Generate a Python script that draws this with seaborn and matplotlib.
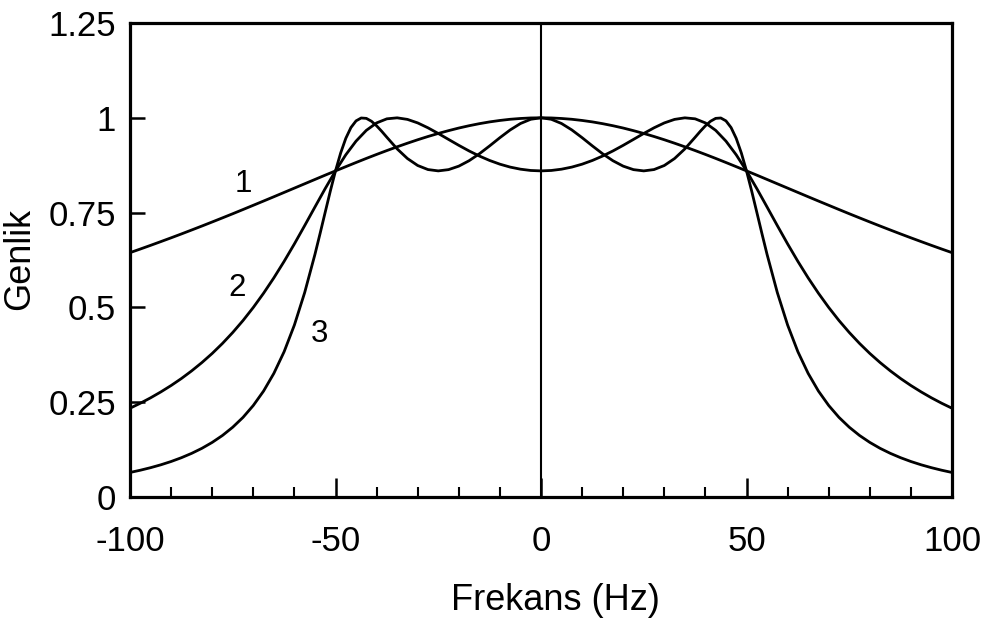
import numpy as np
import pandas as pd
import matplotlib
matplotlib.use("Agg")
import matplotlib.pyplot as plt
from matplotlib.ticker import MultipleLocator
import seaborn as sns

# frequency grid (Hz), -100 .. 100 in 2.5 Hz steps (curves 1 and 2)
freq = [-100, -97.5, -95, -92.5, -90, -87.5, -85, -82.5, -80, -77.5,
        -75, -72.5, -70, -67.5, -65, -62.5, -60, -57.5, -55, -52.5,
        -50, -47.5, -45, -42.5, -40, -37.5, -35, -32.5, -30, -27.5,
        -25, -22.5, -20, -17.5, -15, -12.5, -10, -7.5, -5, -2.5,
        0,
        2.5, 5, 7.5, 10, 12.5, 15, 17.5, 20, 22.5, 25,
        27.5, 30, 32.5, 35, 37.5, 40, 42.5, 45, 47.5, 50,
        52.5, 55, 57.5, 60, 62.5, 65, 67.5, 70, 72.5, 75,
        77.5, 80, 82.5, 85, 87.5, 90, 92.5, 95, 97.5, 100]

# curve 1
genlik_1 = [0.6444, 0.6539, 0.6636, 0.6735, 0.6835, 0.6937, 0.7041, 0.7146, 0.7253, 0.7361,
            0.7470, 0.7581, 0.7693, 0.7805, 0.7918, 0.8032, 0.8146, 0.8260, 0.8374, 0.8488,
            0.8600, 0.8711, 0.8821, 0.8929, 0.9034, 0.9136, 0.9235, 0.9330, 0.9421, 0.9507,
            0.9587, 0.9661, 0.9730, 0.9791, 0.9845, 0.9892, 0.9930, 0.9961, 0.9982, 0.9996,
            1.0000,
            0.9996, 0.9982, 0.9961, 0.9930, 0.9892, 0.9845, 0.9791, 0.9730, 0.9661, 0.9587,
            0.9507, 0.9421, 0.9330, 0.9235, 0.9136, 0.9034, 0.8929, 0.8821, 0.8711, 0.8600,
            0.8488, 0.8374, 0.8260, 0.8146, 0.8032, 0.7918, 0.7805, 0.7693, 0.7581, 0.7470,
            0.7361, 0.7253, 0.7146, 0.7041, 0.6937, 0.6835, 0.6735, 0.6636, 0.6539, 0.6444]

# curve 2
genlik_2 = [0.2341, 0.2472, 0.2615, 0.2771, 0.2940, 0.3124, 0.3326, 0.3546, 0.3786, 0.4050,
            0.4339, 0.4654, 0.4999, 0.5374, 0.5779, 0.6214, 0.6675, 0.7157, 0.7648, 0.8135,
            0.8600, 0.9024, 0.9385, 0.9669, 0.9865, 0.9973, 0.9999, 0.9958, 0.9865, 0.9736,
            0.9587, 0.9430, 0.9274, 0.9126, 0.8992, 0.8875, 0.8777, 0.8700, 0.8645, 0.8611,
            0.8600,
            0.8611, 0.8645, 0.8700, 0.8777, 0.8875, 0.8992, 0.9126, 0.9274, 0.9430, 0.9587,
            0.9736, 0.9865, 0.9958, 0.9999, 0.9973, 0.9865, 0.9669, 0.9385, 0.9024, 0.8600,
            0.8135, 0.7648, 0.7157, 0.6675, 0.6214, 0.5779, 0.5374, 0.4999, 0.4654, 0.4339,
            0.4050, 0.3786, 0.3546, 0.3326, 0.3124, 0.2940, 0.2771, 0.2615, 0.2472, 0.2341]

# curve 3 is read more densely around the steep edges
freq_3 = [-100, -97.5, -95, -92.5, -90, -87.5, -85, -82.5, -80, -77.5,
          -75, -72.5, -70, -67.5, -65, -62.5, -60, -57.5, -55, -53.75, -52.5, -51.25,
          -50, -48.75, -47.5, -46.25, -45, -43.75, -42.5, -41.25, -40, -38.75, -37.5,
          -35, -32.5, -30, -27.5,
          -25, -22.5, -20, -17.5, -15, -12.5, -10, -7.5, -5, -2.5,
          0,
          2.5, 5, 7.5, 10, 12.5, 15, 17.5, 20, 22.5, 25,
          27.5, 30, 32.5, 35, 37.5, 38.75, 40, 41.25, 42.5, 43.75, 45, 46.25, 47.5, 48.75,
          50, 51.25, 52.5, 53.75, 55, 57.5, 60, 62.5, 65, 67.5, 70, 72.5, 75,
          77.5, 80, 82.5, 85, 87.5, 90, 92.5, 95, 97.5, 100]

genlik_3 = [0.0647, 0.0706, 0.0773, 0.0849, 0.0936, 0.1036, 0.1151, 0.1284, 0.1440, 0.1623,
            0.1841, 0.2100, 0.2414, 0.2794, 0.3260, 0.3832, 0.4536, 0.5391, 0.6399, 0.6949, 0.7513, 0.8072,
            0.8600, 0.9070, 0.9457, 0.9742, 0.9919, 0.9995, 0.9985, 0.9909, 0.9789, 0.9643, 0.9486,
            0.9180, 0.8926, 0.8742, 0.8635,
            0.8600, 0.8633, 0.8725, 0.8868, 0.9051, 0.9259, 0.9476, 0.9680, 0.9849, 0.9961,
            1.0000,
            0.9961, 0.9849, 0.9680, 0.9476, 0.9259, 0.9051, 0.8868, 0.8725, 0.8633, 0.8600,
            0.8635, 0.8742, 0.8926, 0.9180, 0.9486, 0.9643, 0.9789, 0.9909, 0.9985, 0.9995, 0.9919, 0.9742, 0.9457, 0.9070,
            0.8600, 0.8072, 0.7513, 0.6949, 0.6399, 0.5391, 0.4536, 0.3832, 0.3260, 0.2794, 0.2414, 0.2100, 0.1841,
            0.1623, 0.1440, 0.1284, 0.1151, 0.1036, 0.0936, 0.0849, 0.0773, 0.0706, 0.0647]

# curve labels and where they sit
curve_names = ["1", "2", "3"]
label_x = [-72.5, -74, -54]
label_y = [0.825, 0.55, 0.43]

sns.set_style("ticks")
plt.rcParams["font.family"] = ["Liberation Sans", "DejaVu Sans"]
plt.rcParams["text.color"] = "black"
plt.rcParams["axes.labelcolor"] = "black"
plt.rcParams["xtick.color"] = "black"
plt.rcParams["ytick.color"] = "black"

fig = plt.figure(figsize=(9.9, 6.19), dpi=100)
ax = fig.add_axes([130 / 990, 1 - 497 / 619, 822 / 990, 474 / 619])

curves = [(freq, genlik_1), (freq, genlik_2), (freq_3, genlik_3)]
for fx, vals in curves:
    df = pd.DataFrame({"freq": fx, "genlik": vals})
    sns.lineplot(data=df, x="freq", y="genlik", color="black", lw=2, ax=ax)

ax.axvline(0, color="black", lw=1.5)

for name, lx, ly in zip(curve_names, label_x, label_y):
    ax.text(lx, ly, name, fontsize=22.5, ha="center", va="center")

ax.set_xlim(-100, 100)
ax.set_ylim(0, 1.25)
ax.set_xticks([-100, -50, 0, 50, 100])
ax.set_xticklabels(["-100", "-50", "0", "50", "100"])
ax.xaxis.set_minor_locator(MultipleLocator(10))
ax.set_yticks([0, 0.25, 0.5, 0.75, 1, 1.25])
ax.set_yticklabels(["0", "0.25", "0.5", "0.75", "1", "1.25"])

ax.tick_params(axis="both", which="major", direction="in", length=11, width=1.8,
               labelsize=25, color="black", labelcolor="black")
ax.tick_params(axis="x", which="major", length=14, pad=20)
ax.tick_params(axis="y", which="major", pad=10)
ax.tick_params(axis="x", which="minor", direction="in", length=7, width=1.5, color="black")

for sp in ax.spines.values():
    sp.set_linewidth(2.3)
    sp.set_color("black")

ax.set_xlabel("Frekans (Hz)", fontsize=26)
ax.xaxis.set_label_coords(0.517, -0.181)
ax.xaxis.label.set_va("top")
ax.set_ylabel("Genlik", fontsize=26)
ax.yaxis.set_label_coords(-0.113, 0.502)

fig.savefig("out.png", dpi=100)
